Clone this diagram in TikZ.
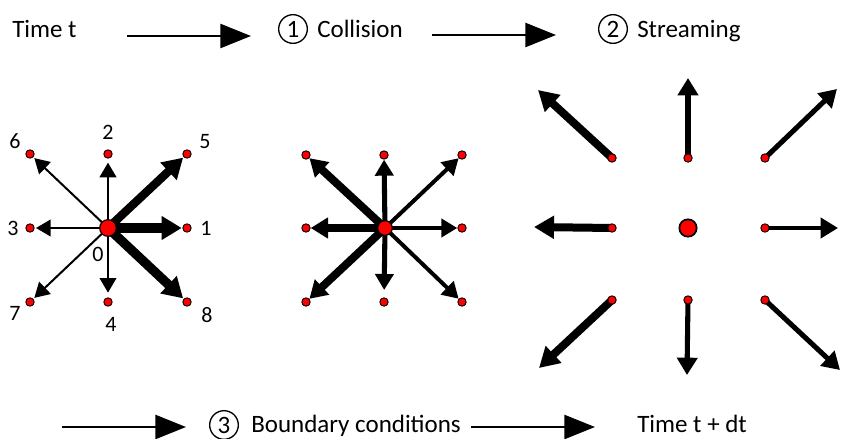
\documentclass[tikz,border=0pt]{standalone}
\usepackage{fontspec}
\setmainfont{Carlito}
\usetikzlibrary{arrows.meta}
\tikzset{
  dot/.style={circle, fill=red, draw=black, line width=0.7pt, inner sep=0pt, minimum size=6.3pt},
  bigdot/.style={dot, line width=0.9pt, minimum size=12.5pt},
  lbl/.style={font=\fontsize{16.5}{18}\selectfont, inner sep=0pt},
  txt/.style={font=\fontsize{18.75}{22}\selectfont, inner sep=0pt, anchor=base west},
  circnum/.style={circle, draw, line width=1pt, minimum size=21.5pt, inner sep=0pt, font=\fontsize{18.75}{22}\selectfont},
  flow/.style={line width=1.9pt, -{Triangle[length=23pt,width=18pt]}},
  thinA/.style={line width=1.5pt, -{Triangle[length=11pt,width=12.5pt]}, shorten >=4.5pt},
  thickA/.style={line width=7pt, -{Triangle[length=15pt,width=17pt]}, shorten >=4pt},
  midThick/.style={line width=6pt, -{Triangle[length=13pt,width=15pt]}, shorten >=3.5pt},
  midMed/.style={line width=3.8pt, -{Triangle[length=12pt,width=13.5pt]}, shorten >=3.5pt},
  midThin/.style={line width=3pt, -{Triangle[length=12pt,width=13.5pt]}, shorten >=3.5pt},
  rThick/.style={line width=6pt, -{Triangle[length=15pt,width=16.5pt]}},
  rMed/.style={line width=3.8pt, -{Triangle[length=13pt,width=15pt]}},
  rThin/.style={line width=3pt, -{Triangle[length=13pt,width=15pt]}},
}
\begin{document}
\begin{tikzpicture}[x=0.75pt,y=-0.75pt]
\useasboundingbox (0,0) rectangle (844,439);

% ---------- top row ----------
\node[txt] (timet) at (12,37) {Time t};
\coordinate (f1s) at (127,36);
\coordinate (f1e) at (251,36);
\draw[flow] (f1s) -- (f1e);
\node[circnum] (n1) at (293,29) {1};
\node[txt] (coll) at (317,37) {Collision};
\coordinate (f2s) at (432,35);
\coordinate (f2e) at (556,35);
\draw[flow] (f2s) -- (f2e);
\node[circnum] (n2) at (613,29) {2};
\node[txt] (stream) at (637,37) {Streaming};

% ---------- left lattice ----------
\coordinate (Lc) at (108,228);
\coordinate (L1) at (187,228);
\coordinate (L2) at (108,154);
\coordinate (L3) at (30,228);
\coordinate (L4) at (108,302);
\coordinate (L5) at (187,154);
\coordinate (L6) at (30,154);
\coordinate (L7) at (30,302);
\coordinate (L8) at (187,302);
\draw[thinA] (Lc) -- (L6);
\draw[thinA, shorten >=6.5pt] (Lc) -- (L2);
\draw[thinA] (Lc) -- (L3);
\draw[thinA] (Lc) -- (L7);
\draw[thinA, shorten >=7pt] (Lc) -- (L4);
\draw[thickA, line width=6.3pt] (Lc) -- (L5);
\draw[thickA] (Lc) -- (L1);
\draw[thickA] (Lc) -- (L8);
\foreach \i in {1,...,8} { \node[dot] (dL\i) at (L\i) {}; }
\node[bigdot] (dLc) at (Lc) {};
\node[lbl] (l6) at (15,141) {6};
\node[lbl] (l2) at (108,132) {2};
\node[lbl] (l5) at (205,142) {5};
\node[lbl] (l3) at (13,228) {3};
\node[lbl] (l1) at (206,228) {1};
\node[lbl] (l0) at (98,254) {0};
\node[lbl] (l7) at (15,313) {7};
\node[lbl] (l4) at (111,324) {4};
\node[lbl] (l8) at (207,315) {8};

% ---------- middle lattice ----------
\coordinate (Mc) at (385,228);
\coordinate (M1) at (462,228);
\coordinate (M2) at (384,155);
\coordinate (M3) at (306,228);
\coordinate (M4) at (384,302);
\coordinate (M5) at (462,155);
\coordinate (M6) at (306,155);
\coordinate (M7) at (306,302);
\coordinate (M8) at (462,302);
\draw[midThick] (Mc) -- (M6);
\draw[midThick] (Mc) -- (M3);
\draw[midThick] (Mc) -- (M7);
\draw[midMed] (Mc) -- (M2);
\draw[midMed, shorten >=9pt] (Mc) -- (M4);
\draw[midThin] (Mc) -- (M5);
\draw[midThin] (Mc) -- (M1);
\draw[midThin] (Mc) -- (M8);
\foreach \i in {1,...,8} { \node[dot] (dM\i) at (M\i) {}; }
\node[bigdot, minimum size=11pt] (dMc) at (Mc) {};

% ---------- right lattice (streaming) ----------
\coordinate (Rc) at (688,228);
\coordinate (R1) at (765,228);
\coordinate (R2) at (688,158);
\coordinate (R3) at (612,228);
\coordinate (R4) at (688,300);
\coordinate (R5) at (765,158);
\coordinate (R6) at (612,158);
\coordinate (R7) at (612,300);
\coordinate (R8) at (765,300);
\coordinate (T1) at (838,228);
\coordinate (T2) at (688,78);
\coordinate (T3) at (534,227);
\coordinate (T4) at (687,375);
\coordinate (T5) at (837,89);
\coordinate (T6) at (538,90);
\coordinate (T7) at (539,368);
\coordinate (T8) at (840,370);
\draw[rThick] (R6) -- (T6);
\draw[rThick] (R3) -- (T3);
\draw[rThick] (R7) -- (T7);
\draw[rMed] (R2) -- (T2);
\draw[rMed] (R4) -- (T4);
\draw[rMed] (R5) -- (T5);
\draw[rThin] (R1) -- (T1);
\draw[rMed] (R8) -- (T8);
\foreach \i in {1,...,8} { \node[dot] (dR\i) at (R\i) {}; }
\node[bigdot, line width=1.3pt, minimum size=13pt] (dRc) at (Rc) {};

% ---------- bottom row ----------
\coordinate (f3s) at (62,427);
\coordinate (f3e) at (186,427);
\draw[flow] (f3s) -- (f3e);
\node[circnum] (n3) at (224,425) {3};
\node[txt] (bound) at (251,432) {Boundary conditions};
\coordinate (f4s) at (471,427);
\coordinate (f4e) at (595,427);
\draw[flow] (f4s) -- (f4e);
\node[txt] (timedt) at (637,432) {Time t + dt};
\end{tikzpicture}
\end{document}
